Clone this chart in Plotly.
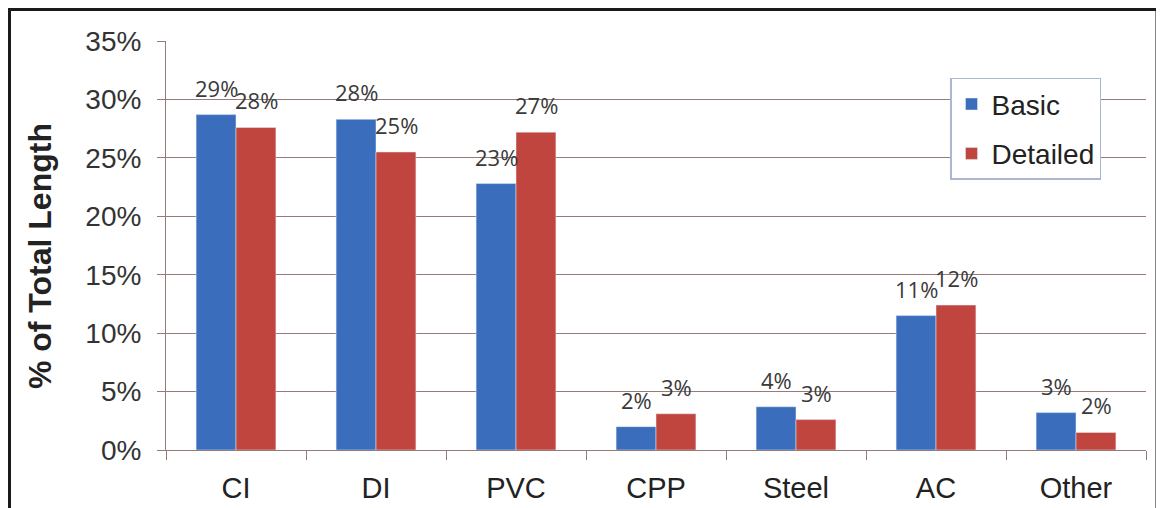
import plotly.graph_objects as go

categories = ["CI", "DI", "PVC", "CPP", "Steel", "AC", "Other"]
basic = [28.7, 28.3, 22.8, 2.0, 3.7, 11.5, 3.2]
detailed = [27.6, 25.5, 27.2, 3.1, 2.6, 12.4, 1.5]
basic_labels = ["29%", "28%", "23%", "2%", "4%", "11%", "3%"]
detailed_labels = ["28%", "25%", "27%", "3%", "3%", "12%", "2%"]

BLUE = "#3b6dbd"
RED = "#c0453f"
GRID = "#977b7b"

fig = go.Figure()
fig.add_trace(go.Bar(x=categories, y=basic, name="Basic", marker_color=BLUE, legendgroup="a"))
fig.add_trace(go.Bar(x=categories, y=detailed, name="Detailed", marker_color=RED, legendgroup="b"))

# value labels floating a bit above each bar
for i, cat in enumerate(categories):
    for vals, labs, dx in ((basic, basic_labels, -20), (detailed, detailed_labels, 20)):
        fig.add_annotation(x=cat, y=vals[i], text=labs[i], showarrow=False,
                           xshift=dx, yshift=27, font=dict(size=22, color="#3a3a3a", family="Open Sans"))

# y axis title placed by hand (closer to the frame than plotly's standoff allows)
fig.add_annotation(xref="paper", yref="paper", x=-0.1286, y=0.474, xanchor="center", yanchor="middle",
                   text="<b>% of Total Length</b>", textangle=-90, showarrow=False,
                   font=dict(size=32, color="#222222"))

# outer frame
fig.add_shape(type="rect", xref="paper", yref="paper", x0=-0.1597, x1=1.0112, y0=-0.2, y1=1.077,
              line=dict(color="#1a1a1a", width=3))

fig.update_layout(
    width=1156, height=500,
    margin=dict(l=158, r=18, t=33, b=58),
    paper_bgcolor="white", plot_bgcolor="white",
    barmode="group", bargap=0.43, bargroupgap=0,
    font=dict(family="Liberation Sans", color="#222222"),
    legend=dict(x=0.8, y=0.91, xanchor="left", yanchor="top", bgcolor="white",
                bordercolor="#a8b8d0", borderwidth=1.5, font=dict(size=28),
                itemwidth=30, tracegroupgap=10),
    showlegend=True,
)
fig.update_yaxes(range=[0, 35], dtick=5, ticksuffix="%", showgrid=True, gridcolor=GRID, gridwidth=1.2,
                 showline=True, linecolor=GRID, ticks="outside", ticklen=8, tickcolor=GRID,
                 tickfont=dict(size=28, color="#333333"), ticklabelstandoff=10, automargin=False)
fig.update_xaxes(showline=True, linecolor=GRID, ticks="outside", ticklen=9, tickcolor=GRID, automargin=False,
                 tickson="boundaries", tickfont=dict(size=29, color="#222222"), ticklabelstandoff=12)

fig.write_html("out.html")
